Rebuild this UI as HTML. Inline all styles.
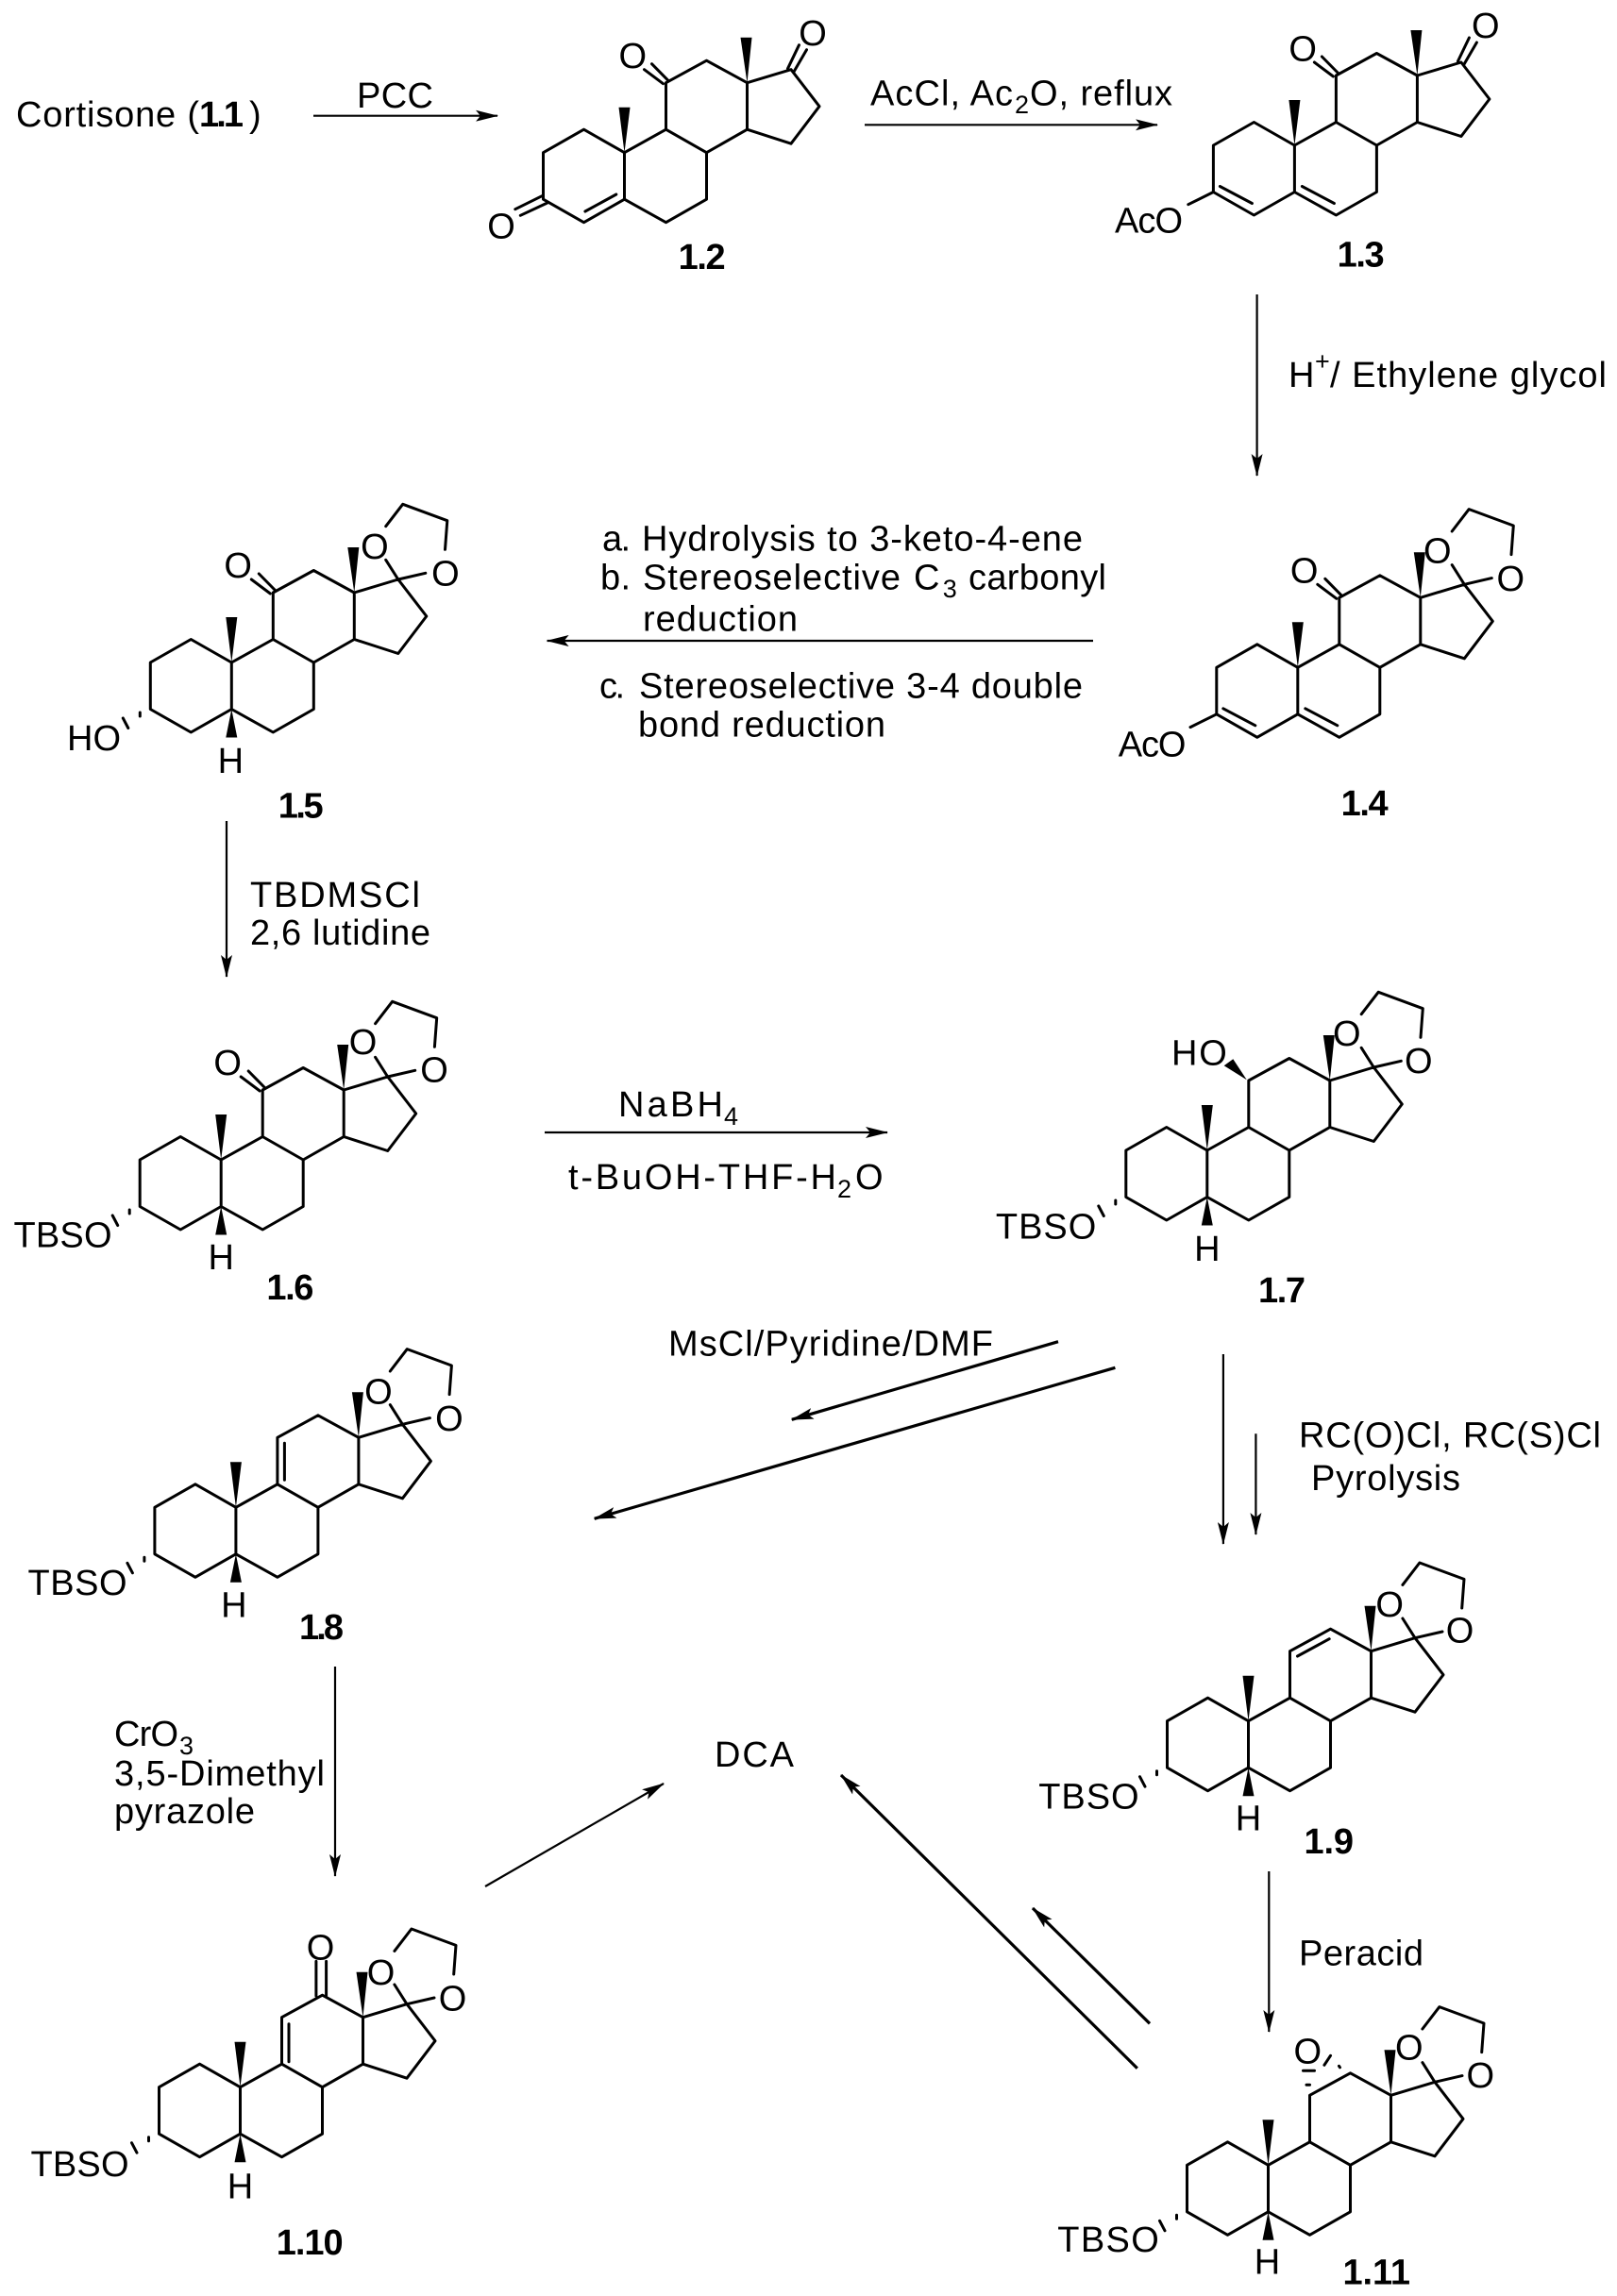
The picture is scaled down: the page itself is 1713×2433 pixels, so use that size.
<!DOCTYPE html>
<html>
<head>
<meta charset="utf-8">
<title>Cortisone to DCA synthesis scheme</title>
<style>
html,body{margin:0;padding:0;background:#fff;}
svg{display:block;}
text{font-family:"Liberation Sans",Arial,sans-serif;font-size:38px;fill:#000;stroke:none;}
.b{font-weight:bold;}
.s{font-size:27px;}
.m{text-anchor:middle;}
.bond{fill:none;stroke:#000;stroke-width:3;stroke-linejoin:round;stroke-linecap:round;}
.ar{fill:none;stroke:#000;stroke-width:2.2;marker-end:url(#ah);}
.ar3{fill:none;stroke:#000;stroke-width:3.2;marker-end:url(#ah);}
</style>
</head>
<body>
<svg xmlns="http://www.w3.org/2000/svg" width="1713" height="2433" viewBox="0 0 1713 2433">
<defs>
  <marker id="ah" markerUnits="userSpaceOnUse" markerWidth="24" markerHeight="12" viewBox="0 0 24 12" refX="23" refY="6" orient="auto">
    <path d="M24 6L0 0L5 6L0 12Z" fill="#000"/>
  </marker>
  <g id="core">
    <path class="bond" d="M0 0L-43 -24.5L-86 0L-86 49.5L-43 74L0 49.5ZM0 0L44 -24.5L87 0L87 49.5L44 74L0 49.5M44 -24.5L44 -74L87 -97.5L130 -74L130 -24.5L87 0M130 -24.5L176.5 -9.5L206.5 -49L176.5 -88L130 -74"/>
    <path d="M0 0L-6 -48L6 -48Z" fill="#000"/>
    <path d="M130 -74L123 -122L135 -122Z" fill="#000"/>
  </g>
  <path id="hw" d="M0 49.5L-6 79.5L6 79.5Z" fill="#000"/>
  <path id="diox" class="bond" d="M163.4 -108.7L176.5 -88M205.5 -94.7L176.5 -88M163.4 -144.3L181.4 -167.7L228.5 -150.3L226.2 -119.7"/>
  <path id="ket" class="bond" d="M41 -73L21 -88M46.7 -76L29 -94"/>
  <path id="hash" class="bond" d="M-97 53L-97 57M-115 59L-109.5 69.5"/>
  <path id="dien" class="bond" d="M-79 43.5L-45 61.5M8 43.5L42 61.5"/>
</defs>
<rect width="1713" height="2433" fill="#fff"/>

<!-- 1.1 / arrows row 1 -->
<text x="17" y="134" textLength="194">Cortisone (</text>
<text x="211" y="134" textLength="47" class="b">1.1</text>
<text x="264" y="134">)</text>
<text x="378" y="114" textLength="81">PCC</text>
<line class="ar" x1="332" y1="122.7" x2="527" y2="122.7"/>
<text x="922" y="111.7" textLength="151">AcCl, Ac</text>
<text x="1075" y="120" class="s">2</text>
<text x="1091" y="111.7" textLength="151">O, reflux</text>
<line class="ar" x1="916" y1="132.3" x2="1226" y2="132.3"/>

<!-- 1.2 -->
<g transform="translate(661.5,161.7)">
  <use href="#core"/><use href="#ket"/>
  <path class="bond" d="M173 -89L185 -114M179.5 -85.7L193 -109M-86.6 45.6L-115.7 60M-81.7 53.3L-110.2 66.6M-41.6 62.3L-8.7 44.3"/>
  <text x="8.8" y="-89.5" class="m">O</text>
  <text x="199.5" y="-113.7" class="m">O</text>
  <text x="-130.5" y="90.6" class="m">O</text>
</g>
<text x="718.6" y="285" class="b" textLength="50">1.2</text>

<!-- 1.3 -->
<g transform="translate(1371.4,154)">
  <use href="#core"/><use href="#ket"/><use href="#dien"/>
  <path class="bond" d="M173 -89L185 -114M179.5 -85.7L193 -109M-86 49.5L-112.6 62.7"/>
  <text x="8.8" y="-89.5" class="m">O</text>
  <text x="202.4" y="-114" class="m">O</text>
</g>
<text x="1181" y="246.7" textLength="72">AcO</text>
<text x="1416.6" y="282.7" class="b" textLength="50">1.3</text>

<!-- 1.3 to 1.4 -->
<line class="ar" x1="1331.6" y1="312" x2="1331.6" y2="504"/>
<text x="1365" y="410">H</text>
<text x="1393" y="392" class="s">+</text>
<text x="1409" y="410" textLength="293">/ Ethylene glycol</text>

<!-- 1.4 -->
<g transform="translate(1374.8,707.3)">
  <use href="#core"/><use href="#ket"/><use href="#diox"/><use href="#dien"/>
  <path class="bond" d="M-86 49.5L-113.8 63.3"/>
  <text x="6.9" y="-90" class="m">O</text>
  <text x="148" y="-111" class="m">O</text>
  <text x="225.5" y="-81.5" class="m">O</text>
</g>
<text x="1184.8" y="801.7" textLength="71.6">AcO</text>
<text x="1420.6" y="864" class="b" textLength="50">1.4</text>

<!-- conditions 1.4 to 1.5 -->
<text x="638" y="583.3" textLength="30">a.</text>
<text x="680" y="583.3" textLength="467">Hydrolysis to 3-keto-4-ene</text>
<text x="636" y="624.3" textLength="32">b.</text>
<text x="681" y="624.3" textLength="273">Stereoselective</text>
<text x="968" y="624.3">C</text>
<text x="998.8" y="633" class="s">3</text>
<text x="1026" y="624.3" textLength="146">carbonyl</text>
<text x="681" y="668.3" textLength="164">reduction</text>
<line class="ar" x1="1158" y1="679" x2="579.6" y2="679"/>
<text x="635" y="739.3" textLength="27">c.</text>
<text x="677" y="739.3" textLength="470">Stereoselective 3-4 double</text>
<text x="676" y="780.7" textLength="262">bond reduction</text>

<!-- 1.5 -->
<g transform="translate(245.3,702)">
  <use href="#core"/><use href="#ket"/><use href="#diox"/><use href="#hash"/><use href="#hw"/>
  <text x="6.9" y="-90" class="m">O</text>
  <text x="151.6" y="-110" class="m">O</text>
  <text x="226.6" y="-81.3" class="m">O</text>
  <text x="-1" y="117" class="m">H</text>
</g>
<text x="71" y="795" textLength="57">HO</text>
<text x="294.7" y="866.7" class="b" textLength="48">1.5</text>

<!-- 1.5 to 1.6 -->
<line class="ar" x1="240" y1="870" x2="240" y2="1035"/>
<text x="265" y="961" textLength="180">TBDMSCl</text>
<text x="265" y="1001" textLength="191">2,6 lutidine</text>

<!-- 1.6 -->
<g transform="translate(234.2,1229)">
  <use href="#core"/><use href="#ket"/><use href="#diox"/><use href="#hash"/><use href="#hw"/>
  <text x="6.9" y="-90" class="m">O</text>
  <text x="150.4" y="-112" class="m">O</text>
  <text x="225.8" y="-82.7" class="m">O</text>
  <text x="0" y="116" class="m">H</text>
</g>
<text x="14.5" y="1321.7" textLength="104">TBSO</text>
<text x="282.4" y="1377" class="b" textLength="50">1.6</text>

<!-- 1.6 to 1.7 -->
<text x="655" y="1183" textLength="111">NaBH</text>
<text x="767" y="1192" class="s">4</text>
<line class="ar" x1="577" y1="1200" x2="940" y2="1200"/>
<text x="602" y="1260" textLength="284">t-BuOH-THF-H</text>
<text x="887" y="1269" class="s">2</text>
<text x="906" y="1260">O</text>

<!-- 1.7 -->
<g transform="translate(1278.8,1219)">
  <use href="#core"/><use href="#diox"/><use href="#hash"/><use href="#hw"/>
  <path d="M42 -74.7L17.9 -89.7L27.5 -96.7Z" fill="#000"/>
  <text x="148" y="-111" class="m">O</text>
  <text x="224" y="-82" class="m">O</text>
  <text x="0" y="117" class="m">H</text>
</g>
<text x="1241" y="1128.3" textLength="58.8">HO</text>
<text x="1054.9" y="1312.7" textLength="106.4">TBSO</text>
<text x="1333" y="1380" class="b" textLength="50">1.7</text>

<!-- 1.7 to 1.8 / 1.9 -->
<text x="708" y="1436.7" textLength="344">MsCl/Pyridine/DMF</text>
<line class="ar3" x1="1121" y1="1421.7" x2="838.8" y2="1504.3"/>
<line class="ar3" x1="1181.4" y1="1449.3" x2="629.7" y2="1609.3"/>
<line class="ar" x1="1295.9" y1="1435" x2="1295.9" y2="1636"/>
<line class="ar" x1="1330.4" y1="1519.3" x2="1330.4" y2="1626"/>
<text x="1376" y="1533.3" textLength="320">RC(O)Cl, RC(S)Cl</text>
<text x="1389" y="1579" textLength="158">Pyrolysis</text>

<!-- 1.8 -->
<g transform="translate(249.9,1597.3)">
  <use href="#core"/><use href="#diox"/><use href="#hash"/><use href="#hw"/>
  <path class="bond" d="M51.5 -68V-29"/>
  <text x="151" y="-110" class="m">O</text>
  <text x="226" y="-81.5" class="m">O</text>
  <text x="-2" y="116" class="m">H</text>
</g>
<text x="29.5" y="1690" textLength="105">TBSO</text>
<text x="317" y="1737" class="b" textLength="47">1.8</text>

<!-- 1.8 to 1.10 -->
<line class="ar" x1="355" y1="1766" x2="355" y2="1988"/>
<text x="121" y="1850" textLength="68">CrO</text>
<text x="190" y="1859" class="s">3</text>
<text x="121" y="1892" textLength="223">3,5-Dimethyl</text>
<text x="121" y="1932" textLength="149">pyrazole</text>

<!-- DCA and arrows -->
<text x="757" y="1872" textLength="84">DCA</text>
<line class="ar" x1="514" y1="1999" x2="703" y2="1890"/>
<line class="ar3" x1="1204.8" y1="2191.7" x2="891" y2="1881"/>
<line class="ar3" x1="1218" y1="2144.3" x2="1094" y2="2022"/>

<!-- 1.9 -->
<g transform="translate(1322.5,1823.7)">
  <use href="#core"/><use href="#diox"/><use href="#hash"/><use href="#hw"/>
  <path class="bond" d="M52 -68.7L85.7 -87"/>
  <text x="149.6" y="-110.7" class="m">O</text>
  <text x="224" y="-83.3" class="m">O</text>
  <text x="0" y="116" class="m">H</text>
</g>
<text x="1100.2" y="1916.7" textLength="106.4">TBSO</text>
<text x="1381.5" y="1964" class="b" textLength="52.5">1.9</text>

<!-- 1.9 to 1.11 -->
<line class="ar" x1="1344.3" y1="1983" x2="1344.3" y2="2153"/>
<text x="1376" y="2082.3" textLength="132">Peracid</text>

<!-- 1.10 -->
<g transform="translate(254.5,2211.7)">
  <use href="#core"/><use href="#diox"/><use href="#hash"/><use href="#hw"/>
  <path class="bond" d="M51.5 -67V-27M80.4 -96.7V-133.3M91.1 -96.7V-133.3"/>
  <text x="85" y="-135.3" class="m">O</text>
  <text x="149" y="-108.7" class="m">O</text>
  <text x="225" y="-81" class="m">O</text>
  <text x="0" y="118" class="m">H</text>
</g>
<text x="32.5" y="2306" textLength="104">TBSO</text>
<text x="292.8" y="2389" class="b" textLength="70.8">1.10</text>

<!-- 1.11 -->
<g transform="translate(1343.5,2294.3)">
  <use href="#core"/><use href="#diox"/><use href="#hash"/><use href="#hw"/>
  <path class="bond" d="M37 -100H49M40.5 -85H44M59.4 -106L66 -116M75 -105L76 -103.5"/>
  <text x="41.8" y="-108" class="m">O</text>
  <text x="149.3" y="-112" class="m">O</text>
  <text x="224.8" y="-82.3" class="m">O</text>
  <text x="-1" y="115" class="m">H</text>
</g>
<text x="1120.3" y="2386" textLength="107.5">TBSO</text>
<text x="1422.5" y="2420.7" class="b" textLength="71.5">1.11</text>
</svg>
</body>
</html>
